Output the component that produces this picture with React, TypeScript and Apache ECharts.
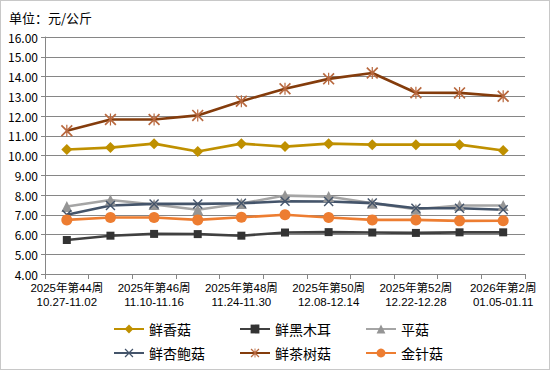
import React, { useEffect, useRef } from "react";
import * as echarts from "echarts";

const weekLabels = [
  "2025年第44周", "2025年第45周", "2025年第46周", "2025年第47周", "2025年第48周",
  "2025年第49周", "2025年第50周", "2025年第51周", "2025年第52周", "2026年第1周", "2026年第2周",
];
const dateRanges = [
  "10.27-11.02", "11.03-11.09", "11.10-11.16", "11.17-11.23", "11.24-11.30",
  "12.01-12.07", "12.08-12.14", "12.15-12.21", "12.22-12.28", "12.29-01.04", "01.05-01.11",
];

const xiangGu = [10.3, 10.4, 10.6, 10.2, 10.6, 10.45, 10.6, 10.55, 10.55, 10.55, 10.25];
const heiMuEr = [5.72, 5.94, 6.03, 6.02, 5.94, 6.1, 6.12, 6.1, 6.08, 6.11, 6.11];
const pingGu = [7.42, 7.75, 7.52, 7.25, 7.57, 7.97, 7.92, 7.58, 7.28, 7.47, 7.47];
const xingBaoGu = [7.0, 7.47, 7.55, 7.55, 7.58, 7.68, 7.67, 7.59, 7.33, 7.33, 7.25];
const chaShuGu = [11.25, 11.82, 11.82, 12.03, 12.75, 13.38, 13.88, 14.18, 13.18, 13.17, 13.0];
const jinZhenGu = [6.74, 6.86, 6.86, 6.74, 6.87, 7.0, 6.86, 6.74, 6.74, 6.69, 6.7];

const seriesNames = ["鲜香菇", "鲜黑木耳", "平菇", "鲜杏鲍菇", "鲜茶树菇", "金针菇"];

const FONT = "'Noto Sans CJK SC', sans-serif";
const LABEL_FONT = "'Liberation Sans', 'Noto Sans CJK SC', sans-serif";

const X_PATH =
  "path://M0,1 L1,0 L5,4 L9,0 L10,1 L6,5 L10,9 L9,10 L5,6 L1,10 L0,9 L4,5 Z";
const STAR_PATH =
  "path://M0,1 L1,0 L5,4 L9,0 L10,1 L6,5 L10,9 L9,10 L5,6 L1,10 L0,9 L4,5 Z M4.5,0 L5.5,0 L5.5,10 L4.5,10 Z";

export default function App() {
  const ref = useRef<HTMLDivElement>(null);

  useEffect(() => {
    if (!ref.current) return;
    const chart = echarts.init(ref.current, undefined, { renderer: "svg" });
    const categories = weekLabels.map((w, i) => w + "\n" + dateRanges[i]);

    const mk = (
      name: string,
      data: number[],
      color: string,
      symbol: string,
      symbolSize: number,
      symbolColor?: string
    ) => ({
      name,
      type: "line",
      data,
      symbol,
      symbolSize,
      showSymbol: true,
      lineStyle: { color, width: 2.6 },
      itemStyle: { color: symbolColor || color, borderWidth: 0 },
      emphasis: { disabled: true },
    });

    const legendPos = [
      { left: 113, top: 322 },
      { left: 239, top: 322 },
      { left: 365, top: 322 },
      { left: 113, top: 346 },
      { left: 239, top: 346 },
      { left: 365, top: 346 },
    ];

    chart.setOption({
      animation: false,
      textStyle: { fontFamily: FONT },
      title: {
        text: "单位：元/公斤",
        left: 4,
        top: 6,
        textStyle: { fontSize: 13, fontWeight: "normal", color: "#000", fontFamily: FONT },
      },
      legend: seriesNames.map((n, i) => ({
        data: [n],
        left: legendPos[i].left,
        top: legendPos[i].top,
        padding: 0,
        itemWidth: 30,
        itemHeight: 11,
        itemGap: 0,
        textStyle: { fontSize: 14, color: "#000", fontFamily: FONT },
        selectedMode: false,
      })),
      grid: { left: 45, right: 25, top: 37, bottom: 96, containLabel: false },
      xAxis: {
        type: "category",
        data: categories,
        boundaryGap: true,
        axisLine: { show: true, lineStyle: { color: "#868686", width: 1 } },
        axisTick: { show: true, interval: 0, length: 5, lineStyle: { color: "#868686" } },
        axisLabel: {
          interval: 1,
          fontSize: 11.5,
          lineHeight: 14,
          color: "#000",
          margin: 7,
          fontFamily: LABEL_FONT,
        },
        splitLine: { show: false },
      },
      yAxis: {
        type: "value",
        min: 4,
        max: 16,
        interval: 1,
        axisLine: { show: true, lineStyle: { color: "#868686", width: 1 } },
        axisTick: { show: true, length: 4, lineStyle: { color: "#868686" } },
        axisLabel: {
          fontSize: 12,
          color: "#000",
          margin: 7,
          fontFamily: FONT,
          formatter: (v: number) => v.toFixed(2),
        },
        splitLine: { show: true, lineStyle: { color: "#868686", width: 1 } },
      },
      series: [
        mk(seriesNames[0], xiangGu, "#BF9000", "diamond", 11),
        mk(seriesNames[1], heiMuEr, "#404040", "rect", 8, "#333333"),
        mk(seriesNames[2], pingGu, "#A5A5A5", "triangle", 11, "#959595"),
        mk(seriesNames[3], xingBaoGu, "#44546A", X_PATH, 10),
        mk(seriesNames[4], chaShuGu, "#843C0C", STAR_PATH, 12, "#B8683E"),
        mk(seriesNames[5], jinZhenGu, "#ED7D31", "circle", 11),
      ],
    });

    return () => chart.dispose();
  }, []);

  return (
    <div
      style={{
        position: "absolute",
        left: 0,
        top: 0,
        width: 550,
        height: 370,
        boxSizing: "border-box",
        border: "1px solid #c8c8c8",
        background: "#fff",
      }}
    >
      <div ref={ref} style={{ position: "absolute", left: -1, top: -1, width: 550, height: 370 }} />
    </div>
  );
}
